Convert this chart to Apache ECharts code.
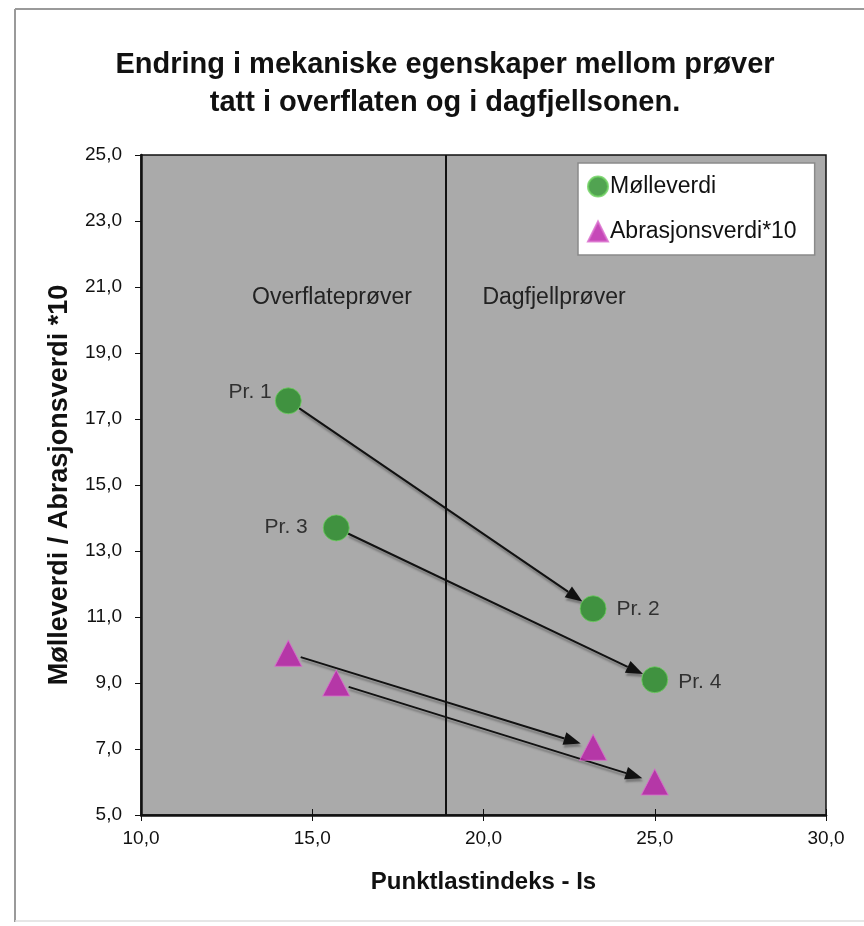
<!DOCTYPE html>
<html>
<head>
<meta charset="utf-8">
<script src="https://cdn.jsdelivr.net/npm/echarts@6/dist/echarts.min.js"></script>
<style>
  html, body { margin: 0; padding: 0; background: #ffffff; }
  #chart { width: 864px; height: 926px; }
</style>
</head>
<body>
<div id="chart"></div>
<script>
// Sample points: punktlastindeks (Is) against mølleverdi / abrasjonsverdi*10
const sampleNames = ['Pr. 1', 'Pr. 2', 'Pr. 3', 'Pr. 4'];
const pointLoadIs = [14.3, 23.2, 15.7, 25.0];
const moelleverdi = [17.55, 11.25, 13.7, 9.1];
const abrasjonsverdi10 = [9.9, 7.05, 9.0, 6.0];

// Arrows run from surface sample to bedrock sample (index pairs)
const arrowPairs = [[0, 1], [2, 3]];

// Boundary between surface and bedrock samples on the Is axis
const boundaryIs = 18.9;

// Axis ranges and tick steps
const xMin = 10, xMax = 30, xStep = 5;
const yMin = 5, yMax = 25, yStep = 2;

const fmt = v => v.toFixed(1).replace('.', ',');

// Label placement per sample
const labelSide = ['left', 'right', 'left', 'right'];
const labelDist = [3, 10, 15, 10];
const labelShift = [[0, -9], [0, 0], [0, -1], [0, 3]];

const moelleData = pointLoadIs.map((x, i) => ({
  value: [x, moelleverdi[i]],
  label: {
    show: true,
    formatter: sampleNames[i],
    position: labelSide[i],
    distance: labelDist[i],
    offset: labelShift[i]
  }
}));
const abrasjonData = pointLoadIs.map((x, i) => [x, abrasjonsverdi10[i]]);

// Arrow segments built from the point arrays
const arrowData = [];
arrowPairs.forEach(([a, b]) => {
  arrowData.push([pointLoadIs[a], moelleverdi[a], pointLoadIs[b], moelleverdi[b]]);
});
arrowPairs.forEach(([a, b]) => {
  arrowData.push([pointLoadIs[a], abrasjonsverdi10[a], pointLoadIs[b], abrasjonsverdi10[b]]);
});

const FONT = '"Liberation Sans", Arial, sans-serif';

function renderArrow(params, api) {
  const p1 = api.coord([api.value(0), api.value(1)]);
  const p2 = api.coord([api.value(2), api.value(3)]);
  const dx = p2[0] - p1[0], dy = p2[1] - p1[1];
  const len = Math.sqrt(dx * dx + dy * dy);
  const ux = dx / len, uy = dy / len;
  const gapStart = 13, gapEnd = 13, headLen = 17, headHalf = 6.5;
  const s = [p1[0] + ux * gapStart, p1[1] + uy * gapStart];
  const tip = [p2[0] - ux * gapEnd, p2[1] - uy * gapEnd];
  const base = [tip[0] - ux * headLen, tip[1] - uy * headLen];
  const nx = -uy, ny = ux;
  const shadow = { shadowColor: 'rgba(60,60,60,0.45)', shadowBlur: 2, shadowOffsetX: 1, shadowOffsetY: 3 };
  return {
    type: 'group',
    children: [
      {
        type: 'line',
        shape: { x1: s[0], y1: s[1], x2: base[0], y2: base[1] },
        style: Object.assign({ stroke: '#111', lineWidth: 2 }, shadow)
      },
      {
        type: 'polygon',
        shape: { points: [tip, [base[0] + nx * headHalf, base[1] + ny * headHalf], [base[0] - nx * headHalf, base[1] - ny * headHalf]] },
        style: Object.assign({ fill: '#111' }, shadow)
      }
    ]
  };
}

const chart = echarts.init(document.getElementById('chart'), null, { renderer: 'canvas' });

const xAxisBase = {
  type: 'value',
  min: xMin, max: xMax, interval: xStep,
  splitLine: { show: false }
};

chart.setOption({
  backgroundColor: '#ffffff',
  animation: false,
  title: {
    text: 'Endring i mekaniske egenskaper mellom prøver\ntatt i overflaten og i dagfjellsonen.',
    left: 440,
    top: 41,
    textAlign: 'center',
    textStyle: { fontFamily: FONT, fontSize: 29, fontWeight: 'bold', color: '#111', lineHeight: 38 }
  },
  grid: {
    left: 141, right: 38, top: 155, bottom: 111,
    show: true,
    backgroundColor: '#aaaaaa',
    borderColor: '#111',
    borderWidth: 1.5
  },
  legend: {
    orient: 'vertical',
    left: 578,
    top: 163,
    width: 234,
    padding: [12, 18, 12, 9],
    itemGap: 22,
    itemWidth: 20,
    itemHeight: 20,
    backgroundColor: '#ffffff',
    borderColor: '#8a8a8a',
    borderWidth: 1.5,
    borderRadius: 0,
    textStyle: { fontFamily: FONT, fontSize: 23, color: '#111', padding: [0, 0, 0, -3] },
    data: ['Mølleverdi', 'Abrasjonsverdi*10']
  },
  xAxis: [
    Object.assign({}, xAxisBase, {
      name: 'Punktlastindeks - Is',
      nameLocation: 'middle',
      nameGap: 55,
      nameTextStyle: { fontFamily: FONT, fontSize: 24, fontWeight: 'bold', color: '#111' },
      axisLine: { show: true, onZero: false, lineStyle: { color: '#111', width: 2.5 } },
      axisTick: { show: true, length: 6, lineStyle: { color: '#111', width: 1 } },
      axisLabel: { margin: 14, fontFamily: FONT, fontSize: 19, color: '#111', formatter: fmt }
    }),
    // Inner half of the crossing ticks on the horizontal axis
    Object.assign({}, xAxisBase, {
      position: 'bottom',
      axisLine: { show: false, onZero: false },
      axisTick: { show: true, inside: true, length: 6, lineStyle: { color: '#111', width: 1 } },
      axisLabel: { show: false }
    })
  ],
  yAxis: {
    type: 'value',
    min: yMin, max: yMax, interval: yStep,
    name: 'Mølleverdi / Abrasjonsverdi *10',
    nameLocation: 'middle',
    nameGap: 68,
    nameTextStyle: { fontFamily: FONT, fontSize: 27, fontWeight: 'bold', color: '#111' },
    axisLine: { show: true, onZero: false, lineStyle: { color: '#111', width: 2.5 } },
    axisTick: { show: true, length: 6, lineStyle: { color: '#111', width: 1 } },
    axisLabel: { margin: 19, fontFamily: FONT, fontSize: 19, color: '#111', formatter: fmt },
    splitLine: { show: false }
  },
  series: [
    {
      name: 'arrows',
      type: 'custom',
      renderItem: renderArrow,
      encode: { x: [0, 2], y: [1, 3] },
      data: arrowData,
      silent: true,
      z: 3,
      markLine: {
        silent: true,
        symbol: ['none', 'none'],
        label: { show: false },
        lineStyle: { color: '#111', width: 2, type: 'solid' },
        data: [{ xAxis: boundaryIs }]
      }
    },
    {
      name: 'Mølleverdi',
      type: 'scatter',
      symbol: 'circle',
      symbolSize: 26,
      itemStyle: { color: '#268c26', borderColor: '#6ccf5e', borderWidth: 1 },
      label: { fontFamily: FONT, fontSize: 21, color: '#111' },
      data: moelleData,
      z: 4
    },
    {
      name: 'Abrasjonsverdi*10',
      type: 'scatter',
      symbol: 'triangle',
      symbolSize: [27, 26],
      itemStyle: { color: '#b81aa6', borderColor: '#d86ccc', borderWidth: 1 },
      data: abrasjonData,
      z: 4
    }
  ],
  graphic: [
    {
      type: 'text', x: 332, y: 298,
      style: { text: 'Overflateprøver', fontFamily: FONT, fontSize: 23, fill: '#222', align: 'center', verticalAlign: 'middle' },
      z: 5
    },
    {
      type: 'text', x: 554, y: 298,
      style: { text: 'Dagfjellprøver', fontFamily: FONT, fontSize: 23, fill: '#222', align: 'center', verticalAlign: 'middle' },
      z: 5
    },
    { type: 'line', shape: { x1: 15, y1: 9, x2: 864, y2: 9 }, style: { stroke: '#9a9a9a', lineWidth: 2 } },
    { type: 'line', shape: { x1: 15, y1: 9, x2: 15, y2: 922 }, style: { stroke: '#9a9a9a', lineWidth: 2 } },
    { type: 'line', shape: { x1: 15, y1: 921, x2: 864, y2: 921 }, style: { stroke: '#dedede', lineWidth: 1.5 } }
  ]
});
</script>
</body>
</html>
